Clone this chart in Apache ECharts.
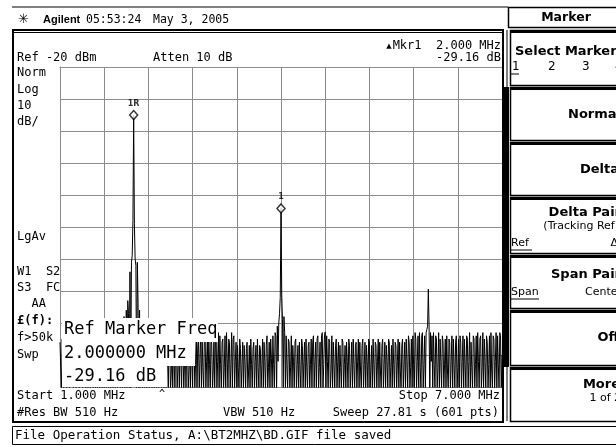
<!DOCTYPE html>
<html><head><meta charset="utf-8">
<script src="https://cdn.jsdelivr.net/npm/echarts@6/dist/echarts.min.js"></script>
<style>html,body{margin:0;padding:0;background:#fff}#c{width:616px;height:447px}</style>
</head><body><div id="c"></div>
<script>
// Sweep definition (MHz, 601 points) and display scale (dBm)
const START_MHZ = 1.0;
const STOP_MHZ = 7.0;
const STEP_MHZ = 0.01;
const REF_DBM = -20;
const BOTTOM_DBM = -120;
const DB_PER_DIV = 10;
const X_DIVS = 10;

// Trace levels (dBm), one per sweep point
const trace = [
 -106,-114,-121,-105,-110,-121,-107,-104,-119,-121,
 -108,-112,-105,-121,-121,-106,-113,-104,-121,-109,
 -105,-117,-121,-107,-111,-106,-121,-121,-104,-113,
 -108,-121,-105,-106,-116,-121,-107,-112,-121,-105,
 -104,-121,-118,-107,-111,-121,-106,-105,-121,-114,
 -108,-121,-104,-112,-121,-106,-107,-121,-115,-105,
 -121,-106,-111,-121,-108,-104,-121,-117,-106,-121,
 -105,-113,-121,-107,-106,-121,-112,-104,-121,-108,
 -114,-105,-121,-106,-116,-121,-104,-98,-121,-112,
 -96,-121,-93,-97,-121,-84,-121,-81,-79,-68,
 -35.0,-69,-80,-82,-121,-81,-94,-121,-96,-121,
 -104,-112,-121,-106,-105,-121,-113,-107,-121,-104,
 -110,-121,-106,-105,-117,-121,-108,-113,-121,-105,
 -104,-121,-112,-107,-121,-106,-114,-105,-121,-108,
 -106,-121,-113,-104,-121,-107,-111,-121,-105,-106,
 -121,-116,-104,-121,-108,-112,-121,-106,-105,-121,
 -114,-107,-121,-104,-110,-121,-106,-108,-121,-113,
 -105,-121,-107,-104,-121,-115,-106,-121,-105,-112,
 -121,-103,-106,-121,-113,-104,-121,-107,-105,-121,
 -111,-103,-121,-106,-114,-121,-104,-103,-121,-112,
 -105,-121,-104,-113,-121,-103,-107,-121,-115,-104,
 -121,-106,-105,-121,-112,-103,-121,-104,-113,-121,
 -106,-105,-121,-114,-104,-121,-103,-111,-121,-105,
 -106,-121,-113,-103,-121,-105,-104,-121,-112,-106,
 -121,-107,-114,-121,-105,-108,-121,-113,-106,-121,
 -107,-112,-121,-108,-106,-121,-115,-107,-121,-105,
 -113,-121,-108,-106,-121,-112,-107,-121,-105,-114,
 -121,-107,-108,-121,-113,-105,-121,-106,-112,-121,
 -107,-104,-121,-114,-106,-121,-105,-111,-121,-104,
 -113,-121,-103,-104,-121,-101,-112,-100,-97,-92,
 -64.2,-91,-99,-121,-98,-103,-121,-104,-113,-121,
 -105,-106,-121,-114,-104,-121,-107,-112,-121,-106,
 -105,-121,-113,-107,-121,-106,-115,-121,-105,-107,
 -121,-112,-106,-121,-105,-114,-121,-107,-106,-121,
 -113,-105,-121,-106,-104,-121,-112,-106,-121,-105,
 -104,-121,-114,-106,-121,-104,-103,-121,-113,-104,
 -102.8,-121,-104,-112,-121,-105,-106,-121,-115,-104,
 -121,-106,-113,-121,-107,-105,-121,-112,-106,-121,
 -107,-114,-121,-105,-106,-121,-113,-107,-121,-106,
 -112,-121,-105,-107,-121,-114,-106,-121,-105,-113,
 -121,-107,-106,-121,-112,-105,-121,-106,-115,-121,
 -107,-105,-121,-113,-106,-121,-107,-112,-121,-105,
 -106,-121,-114,-107,-121,-105,-113,-121,-106,-107,
 -121,-112,-105,-121,-106,-115,-121,-107,-105,-121,
 -113,-106,-121,-107,-112,-121,-105,-106,-121,-114,
 -107,-121,-105,-113,-121,-106,-107,-121,-112,-105,
 -121,-106,-115,-121,-107,-105,-121,-113,-106,-121,
 -105,-112,-121,-104,-106,-121,-114,-105,-121,-104,
 -113,-121,-103,-105,-121,-112,-104,-121,-103,-114,
 -121,-104,-103,-121,-113,-104,-121,-103,-102,-101,
 -89.4,-101,-121,-103,-112,-104,-121,-103,-113,-121,
 -104,-105,-121,-114,-103,-121,-105,-112,-121,-104,
 -106,-121,-113,-105,-121,-104,-115,-121,-105,-106,
 -121,-112,-104,-121,-105,-113,-121,-106,-104,-121,
 -114,-105,-121,-104,-106,-121,-112,-104,-121,-105,
 -113,-121,-104,-105,-121,-112,-103,-121,-106,-114,
 -121,-104,-105,-121,-113,-104,-121,-103,-112,-121,
 -105,-104,-121,-114,-103,-121,-105,-112,-121,-104,
 -106,-121,-113,-104,-121,-103,-115,-121,-104,-105,
 -121,-112,-103,-121,-104,-113,-121,-103,-104,-121,
 -110
];

// Markers
const markerFreqs = [2.0, 4.0];
const markerLevels = [-35.0, -64.2];
const markerLabels = ['1R', '1'];

// Texts
const headerTexts = ['Agilent', '05:53:24', 'May 3, 2005'];
const leftLabels = ['Norm', 'Log', '10', 'dB/', 'LgAv', 'W1  S2', 'S3  FC', '  AA', '\u00a3(f):', 'f>50k', 'Swp'];
const softkeys = ['Select Marker', 'Normal', 'Delta', 'Delta Pair', 'Span Pair', 'Off', 'More'];
const popupLines = ['Ref Marker Freq', '2.000000 MHz', '-29.16 dB'];

const MONO = '"DejaVu Sans Mono", monospace';
const SANS = '"DejaVu Sans", sans-serif';
const GRIDC = '#8c8c8c';

function T(x, y, s, o) {
  o = o || {};
  return {type: 'text', x: x, y: y, z: o.z || 10, silent: true,
    style: {text: s, fill: '#000', fontFamily: o.ff || MONO, fontSize: o.fs || 12,
      fontWeight: o.fw || 'normal', textAlign: o.al || 'left', textVerticalAlign: 'middle'}};
}
function R(x, y, w, h, o) {
  o = o || {};
  return {type: 'rect', z: o.z || 5, silent: true, shape: {x: x, y: y, width: w, height: h},
    style: {fill: o.fill || 'none', stroke: o.stroke || null, lineWidth: o.lw || 1}};
}
function L(x1, y1, x2, y2, lw, z) {
  return {type: 'line', z: z || 5, silent: true, shape: {x1: x1, y1: y1, x2: x2, y2: y2},
    style: {stroke: '#000', lineWidth: lw || 1}};
}

const g = [];
// header
g.push(L(12, 7, 508, 7, 1));
g.push(T(18, 20, '\u2733', {ff: SANS, fs: 13}));
g.push(T(43, 20, headerTexts[0], {ff: '"Liberation Sans", sans-serif', fs: 11, fw: 'bold'}));
g.push(T(86, 20, headerTexts[1], {fs: 11.5}));
g.push(T(153, 20, headerTexts[2], {fs: 11.5}));
// Marker title box
g.push(R(508.5, 7.5, 120, 20, {stroke: '#000', lw: 1.5}));
g.push(T(566, 18, 'Marker', {ff: SANS, fs: 12.5, fw: 'bold', al: 'center'}));
// screen frame
g.push(R(13, 30, 490, 392, {stroke: '#000', lw: 2}));
g.push(L(13, 32.5, 503, 32.5, 1));
// screen annotations
g.push(T(17, 58, 'Ref -20 dBm'));
g.push(T(153, 58, 'Atten 10 dB'));
g.push(T(389, 46, '\u25b2', {ff: SANS, fs: 7, al: 'center'}));
g.push(T(501, 46, 'Mkr1  2.000 MHz', {al: 'right'}));
g.push(T(501, 58, '-29.16 dB', {al: 'right'}));
const leftY = [73, 90, 106, 122, 237, 272, 288, 304, 321, 338, 355];
leftLabels.forEach((s, i) => g.push(T(17, leftY[i], s, i === 8 ? {fw: 'bold'} : {})));
g.push(T(17, 396, 'Start 1.000 MHz'));
g.push(T(17, 413, '#Res BW 510 Hz'));
g.push(T(223, 413, 'VBW 510 Hz'));
g.push(T(500, 396, 'Stop 7.000 MHz', {al: 'right'}));
g.push(T(499, 413, 'Sweep 27.81 s (601 pts)', {al: 'right'}));
g.push(T(162, 394, '^', {fs: 10, al: 'center'}));
// popup with white background
g.push(R(62, 318, 156, 24, {fill: '#fff', z: 50}));
g.push(R(62, 342, 133, 24, {fill: '#fff', z: 50}));
g.push(R(62, 366, 105, 21, {fill: '#fff', z: 50}));
g.push(T(64, 330, popupLines[0], {fs: 17, z: 51}));
g.push(T(64, 354, popupLines[1], {fs: 17, z: 51}));
g.push(T(64, 377, popupLines[2], {fs: 17, z: 51}));
// right panel
const btnTops = [30, 87, 142, 197, 255, 310, 367];
const btnBottom = 421;
g.push(R(504, 87, 5, 280, {fill: '#000'}));
btnTops.forEach((t, i) => {
  const b = i < btnTops.length - 1 ? btnTops[i + 1] - 2 : btnBottom;
  g.push(R(510.5, t + 0.5, 120, b - t, {stroke: '#000', lw: 1.5}));
  g.push(L(510, t + 1.5, 616, t + 1.5, 3));
});
g.push(L(507, 30, 507, 87, 1));
g.push(L(507, 367, 507, 421, 1));
g.push(T(515, 52, softkeys[0], {ff: SANS, fs: 13, fw: 'bold'}));
[['1', 512], ['2', 548], ['3', 582], ['4', 615]].forEach(p => g.push(T(p[1], 67, p[0], {ff: SANS, fs: 12})));
g.push(L(511, 74, 519, 74, 1));
g.push(T(621, 115, softkeys[1], {ff: SANS, fs: 13, fw: 'bold', al: 'right'}));
g.push(T(619, 170, softkeys[2], {ff: SANS, fs: 13, fw: 'bold', al: 'right'}));
g.push(T(621, 213, softkeys[3], {ff: SANS, fs: 13, fw: 'bold', al: 'right'}));
g.push(T(619, 226, '(Tracking Ref)', {ff: SANS, fs: 11, al: 'right'}));
g.push(T(511, 243, 'Ref', {ff: SANS, fs: 11}));
g.push(L(511, 250, 532, 250, 1));
g.push(T(618, 243, '\u0394', {ff: SANS, fs: 11, al: 'right'}));
g.push(T(621, 275, softkeys[4], {ff: SANS, fs: 13, fw: 'bold', al: 'right'}));
g.push(T(511, 292, 'Span', {ff: SANS, fs: 11}));
g.push(L(511, 299, 539, 299, 1));
g.push(T(622, 292, 'Center', {ff: SANS, fs: 11, al: 'right'}));
g.push(T(619, 338, softkeys[5], {ff: SANS, fs: 13, fw: 'bold', al: 'right'}));
g.push(T(620, 385, softkeys[6], {ff: SANS, fs: 13, fw: 'bold', al: 'right'}));
g.push(T(621, 398, '1 of 2', {ff: SANS, fs: 11, al: 'right'}));
// status bar
g.push(R(12.5, 426.5, 610, 18, {stroke: '#000', lw: 1}));
g.push(T(15, 436, 'File Operation Status, A:\\BT2MHZ\\BD.GIF file saved', {fs: 12.5}));

const traceData = trace.map((v, i) => [+(START_MHZ + i * STEP_MHZ).toFixed(2), v]);
const markerData = markerFreqs.map((f, i) => ({value: [f, markerLevels[i]], name: markerLabels[i]}));

const chart = echarts.init(document.getElementById('c'), null, {renderer: 'canvas'});
chart.setOption({
  animation: false,
  backgroundColor: '#fff',
  grid: {left: 60, top: 67, width: 442, height: 320, containLabel: false},
  xAxis: [
    {type: 'value', min: START_MHZ, max: STOP_MHZ, show: false},
    {type: 'value', min: 0, max: X_DIVS, interval: 1, position: 'top',
      axisLabel: {show: false}, axisTick: {show: false},
      axisLine: {show: true, lineStyle: {color: GRIDC, width: 1}},
      splitLine: {show: true, lineStyle: {color: GRIDC, width: 1}}}
  ],
  yAxis: {type: 'value', min: BOTTOM_DBM, max: REF_DBM, interval: DB_PER_DIV,
    axisLabel: {show: false}, axisTick: {show: false},
    axisLine: {show: true, lineStyle: {color: GRIDC, width: 1}},
    splitLine: {show: true, lineStyle: {color: GRIDC, width: 1}}},
  series: [
    {type: 'line', xAxisIndex: 0, data: traceData, showSymbol: false, clip: true,
      lineStyle: {color: '#000', width: 1}, z: 3},
    {type: 'scatter', xAxisIndex: 0, data: markerData, symbol: 'diamond', symbolSize: [8, 9],
      itemStyle: {color: '#fff', borderColor: '#000', borderWidth: 1.5}, z: 4,
      label: {show: true, position: 'top', distance: 2, formatter: p => p.name,
        fontFamily: SANS, fontSize: 8, fontWeight: 'bold', color: '#000'}}
  ],
  graphic: {elements: g}
});
</script></body></html>
